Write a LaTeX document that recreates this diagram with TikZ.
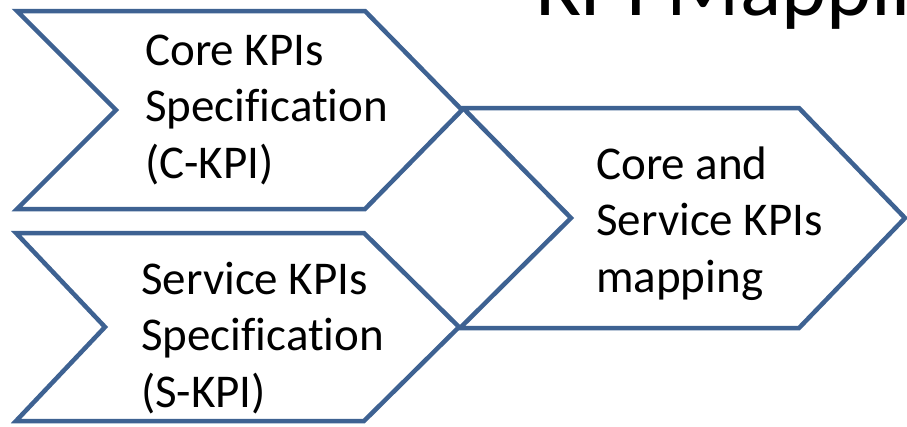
\documentclass[tikz,border=0pt]{standalone}
\usepackage{fontspec}
\setmainfont[Ligatures=NoCommon]{Carlito}
\definecolor{chevblue}{RGB}{62,98,146}
\tikzset{
  chev/.style={draw=chevblue, line width=4.5pt, fill=white, line join=miter},
  lbl/.style={anchor=base west, inner sep=0pt, align=left, font=\fontsize{47}{56.5}\selectfont},
  ttl/.style={anchor=base west, inner sep=0pt, font=\fontsize{86}{100}\selectfont}
}
\begin{document}
\begin{tikzpicture}[x=1pt,y=-1pt]
\useasboundingbox (0,0) rectangle (907,426);
\fill[white] (0,0) rectangle (907,426);
% title
\node[ttl] (title) at (536,15) {KPI Mapping};
% top chevron
\draw[chev] (17,11) -- (365,11) -- (462,110) coordinate (ctip) -- (365,209) -- (17,209) -- (116,110) -- cycle;
% bottom chevron
\draw[chev] (16,233) -- (364,233) -- (459,327) coordinate (stip) -- (364,421) -- (16,421) -- (105,327) -- cycle;
% right chevron
\draw[chev] (463,108) -- (799,108) -- (905,218) -- (799,328) -- (460,328) -- (571,218) -- cycle;
% texts (anchor at baseline of last line)
\node[lbl] (ckpi) at (145,178) {Core KPIs\\Specification\\(C-KPI)};
\node[lbl] (skpi) at (141,407) {Service KPIs\\Specification\\(S-KPI)};
\node[lbl] (map) at (596,292) {Core and\\Service KPIs\\mapping};
\end{tikzpicture}
\end{document}
